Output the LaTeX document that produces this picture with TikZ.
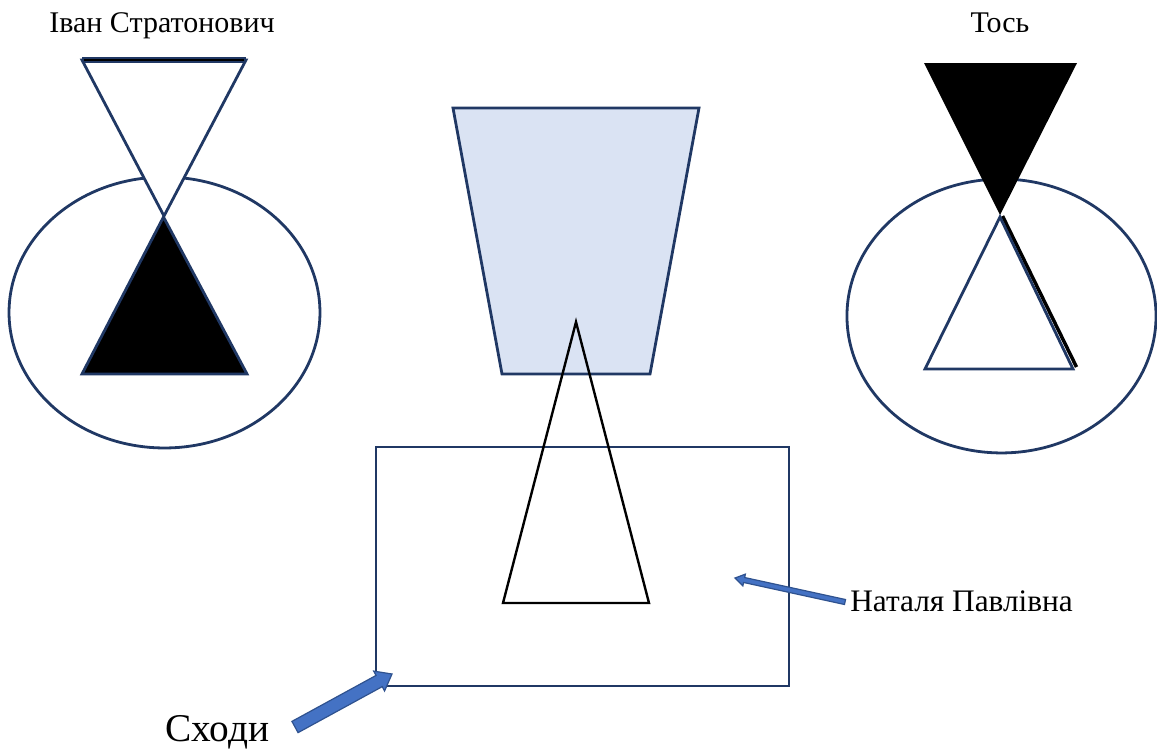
\documentclass[tikz,border=0pt]{standalone}
\usepackage{fontspec}
\setmainfont{Liberation Serif}
\usetikzlibrary{calc}
\definecolor{navy}{HTML}{203864}
\definecolor{paleblue}{HTML}{DAE3F3}
\definecolor{arrowfill}{HTML}{4472C4}
\definecolor{arrowline}{HTML}{2F528F}
% block arrow: name, tail, tip, half shaft, half head, head length
\newcommand{\blockarrow}[6]{%
  \coordinate (#1h) at ($(#3)!#6!(#2)$);
  \filldraw[arrowshape] ($(#2)!#4!90:(#3)$) -- ($(#1h)!#4!90:(#3)$)
    -- ($(#1h)!#5!90:(#3)$) -- (#3) -- ($(#1h)!#5!-90:(#3)$)
    -- ($(#1h)!#4!-90:(#3)$) -- ($(#2)!#4!-90:(#3)$) -- cycle;}

\begin{document}
\begin{tikzpicture}[x=0.75pt, y=-0.75pt,
    outline/.style={draw=navy, line width=2.1pt, line join=miter},
    arrowshape/.style={fill=arrowfill, draw=arrowline, line width=0.9pt},
    lbl/.style={font=\fontsize{22.5}{26}\selectfont, inner sep=0pt, anchor=base}]
  \useasboundingbox (0,0) rectangle (1157,751);
  % left figure
  \node[lbl] (ivan) at (162,32) {Іван Стратонович};
  \draw[outline, fill=white] (164.5,312.5) ellipse [x radius=116.6pt, y radius=101.6pt];
  \draw[outline, fill=white] (82,60) -- (246,60) -- (164,216) -- cycle;
  \draw[navy, line width=4.2pt] (82,60) -- (246,60);
  \draw[black, line width=1.8pt] (84,60) -- (244,60);
  \draw[outline, fill=black] (163.5,217) -- (247,374) -- (82,374) -- cycle;
  % right figure
  \node[lbl] (tos) at (1000,32) {Тось};
  \draw[outline, fill=white] (1001.5,316) ellipse [x radius=115.9pt, y radius=102.7pt];
  \draw[black, line width=2.6pt] (1002.5,216) -- (1076.5,367);
  \draw[outline, fill=white] (1000,217) -- (1073,369) -- (925,369) -- cycle;
  \fill[black] (924,63) -- (1077,63) -- (1000,215) -- cycle;
  % middle
  \draw[outline, fill=paleblue] (453,108) -- (699,108) -- (650,374) -- (502,374) -- cycle;
  \draw[outline] (376,447) rectangle (789,686);
  \draw[black, line width=1.8pt] (576,322) -- (649,603) -- (503,603) -- cycle;
  % labels with arrows
  \node[lbl, anchor=base west, font=\fontsize{23.5}{27}\selectfont] (natalia) at (850,611) {Наталя Павлівна};
  \coordinate (natTail) at (845,602);
  \coordinate (natTip) at (735,578);
  \blockarrow{nat}{natTail}{natTip}{1.9pt}{4.5pt}{7pt}
  \node[lbl, anchor=base west, font=\fontsize{29.5}{34}\selectfont] (shody) at (165,741) {Сходи};
  \coordinate (stTail) at (295,727);
  \coordinate (stTip) at (392,674);
  \blockarrow{st}{stTail}{stTip}{4.8pt}{8.5pt}{11pt}
\end{tikzpicture}
\end{document}
